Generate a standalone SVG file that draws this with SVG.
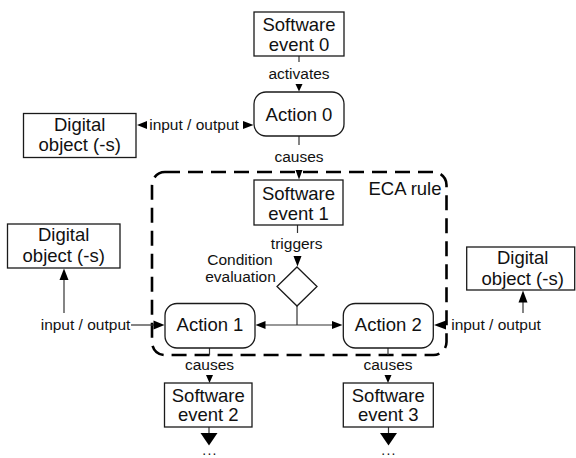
<svg xmlns="http://www.w3.org/2000/svg" width="576" height="458" viewBox="0 0 576 458">
<style>
  .box { fill: #ffffff; stroke: #1a1a1a; stroke-width: 1.3; }
  .lbl { font-family: "Liberation Sans", Arial, sans-serif; font-size: 18.5px; fill: #111; text-anchor: middle; }
  .sm { font-family: "Liberation Sans", Arial, sans-serif; font-size: 15.5px; fill: #111; text-anchor: middle; }
  .dots { font-family: "Liberation Sans", Arial, sans-serif; font-size: 14px; fill: #111; text-anchor: middle; letter-spacing: 1.2px; }
  .ln { stroke: #333; stroke-width: 1.2; fill: none; }
  .ah { fill: #000; stroke: none; }
  .eca { fill: none; stroke: #000; stroke-width: 2.6; stroke-dasharray: 15 8; }
</style>
<rect x="0" y="0" width="576" height="458" fill="#ffffff"/>

<g id="eca-rule">
  <rect class="eca" x="152" y="172" width="294.5" height="183" rx="13"/>
  <text class="lbl" x="405" y="195">ECA rule</text>
</g>

<g id="connectors">
  <!-- event0 -> action0 -->
  <line class="ln" x1="299" y1="56" x2="299" y2="62"/>
  <text class="sm" x="299" y="79">activates</text>
  <polygon class="ah" points="295.5,84 302.5,84 299,91.5"/>
  <!-- action0 -> event1 -->
  <line class="ln" x1="299" y1="136" x2="299" y2="145"/>
  <text class="sm" x="299" y="162">causes</text>
  <polygon class="ah" points="295.5,170 302.5,170 299,179.5"/>
  <!-- digital object <-> action0 -->
  <polygon class="ah" points="147,121 147,129 137,125"/>
  <text class="sm" x="194" y="130">input / output</text>
  <polygon class="ah" points="243,121 243,129 253.5,125"/>
  <!-- event1 -> condition -->
  <line class="ln" x1="297.5" y1="225" x2="297.5" y2="233"/>
  <text class="sm" x="296.7" y="249">triggers</text>
  <polygon class="ah" points="293.5,256 301.5,256 297.5,266.5"/>
  <!-- condition -> actions -->
  <line class="ln" x1="297" y1="306" x2="297" y2="325"/>
  <line class="ln" x1="264" y1="325" x2="333" y2="325"/>
  <polygon class="ah" points="265.5,321 265.5,329 255.5,325"/>
  <polygon class="ah" points="332,321 332,329 342.5,325"/>
  <!-- left input/output -->
  <text class="sm" x="85.5" y="330">input / output</text>
  <line class="ln" x1="131" y1="325" x2="154" y2="325"/>
  <polygon class="ah" points="153.5,320.5 153.5,329.5 164.5,325"/>
  <line class="ln" x1="64" y1="313" x2="64" y2="278"/>
  <polygon class="ah" points="59.5,280 68.5,280 64,268.5"/>
  <!-- right input/output -->
  <polygon class="ah" points="446,320.5 446,329.5 434,325"/>
  <text class="sm" x="496" y="330">input / output</text>
  <line class="ln" x1="523" y1="313" x2="523" y2="300"/>
  <polygon class="ah" points="518.5,302.5 527.5,302.5 523,290.5"/>
  <!-- action1 -> event2 -->
  <line class="ln" x1="209.5" y1="348" x2="209.5" y2="355"/>
  <text class="sm" x="209.5" y="370">causes</text>
  <polygon class="ah" points="206,375 213,375 209.5,383"/>
  <!-- action2 -> event3 -->
  <line class="ln" x1="388" y1="348" x2="388" y2="355"/>
  <text class="sm" x="388" y="370">causes</text>
  <polygon class="ah" points="384.5,375 391.5,375 388,383"/>
  <!-- event2 -> ... -->
  <line class="ln" x1="209" y1="427" x2="209" y2="434"/>
  <polygon class="ah" points="200.5,433 217.5,433 209,445.5"/>
  <text class="dots" x="210" y="455">...</text>
  <!-- event3 -> ... -->
  <line class="ln" x1="388.5" y1="427" x2="388.5" y2="434"/>
  <polygon class="ah" points="380,433 397,433 388.5,445.5"/>
  <text class="dots" x="389" y="455">...</text>
</g>

<g id="software-event-0">
  <rect class="box" x="254" y="12" width="90" height="44"/>
  <text class="lbl" x="299" y="31">Software</text>
  <text class="lbl" x="299" y="51">event 0</text>
</g>

<g id="action-0">
  <rect class="box" x="254" y="92" width="90" height="44" rx="12"/>
  <text class="lbl" x="299" y="120.5">Action 0</text>
</g>

<g id="digital-object-top">
  <rect class="box" x="23.5" y="113.5" width="112.5" height="44"/>
  <text class="lbl" x="79.7" y="130.5">Digital</text>
  <text class="lbl" x="79.7" y="150.5">object (-s)</text>
</g>

<g id="software-event-1">
  <rect class="box" x="254" y="180" width="89" height="45"/>
  <text class="lbl" x="298.5" y="200">Software</text>
  <text class="lbl" x="298.5" y="219.5">event 1</text>
</g>

<g id="condition">
  <polygon class="box" points="297,267 317,286.5 297,306 277,286.5"/>
  <text class="sm" x="240" y="265">Condition</text>
  <text class="sm" x="240.5" y="282">evaluation</text>
</g>

<g id="digital-object-left">
  <rect class="box" x="7.5" y="224" width="112.5" height="44"/>
  <text class="lbl" x="63.7" y="241">Digital</text>
  <text class="lbl" x="63.7" y="261.5">object (-s)</text>
</g>

<g id="action-1">
  <rect class="box" x="165" y="303.5" width="90" height="44.5" rx="12"/>
  <text class="lbl" x="210" y="331">Action 1</text>
</g>

<g id="action-2">
  <rect class="box" x="343.3" y="303.5" width="90" height="44.5" rx="12"/>
  <text class="lbl" x="388.3" y="331">Action 2</text>
</g>

<g id="digital-object-right">
  <rect class="box" x="466.7" y="247" width="108" height="43"/>
  <text class="lbl" x="522.7" y="264">Digital</text>
  <text class="lbl" x="522.7" y="284.5">object (-s)</text>
</g>

<g id="software-event-2">
  <rect class="box" x="164.5" y="383" width="87.5" height="44"/>
  <text class="lbl" x="208.3" y="402">Software</text>
  <text class="lbl" x="208.3" y="421">event 2</text>
</g>

<g id="software-event-3">
  <rect class="box" x="343.3" y="383" width="90" height="44"/>
  <text class="lbl" x="388.3" y="402">Software</text>
  <text class="lbl" x="388.3" y="421">event 3</text>
</g>
</svg>
